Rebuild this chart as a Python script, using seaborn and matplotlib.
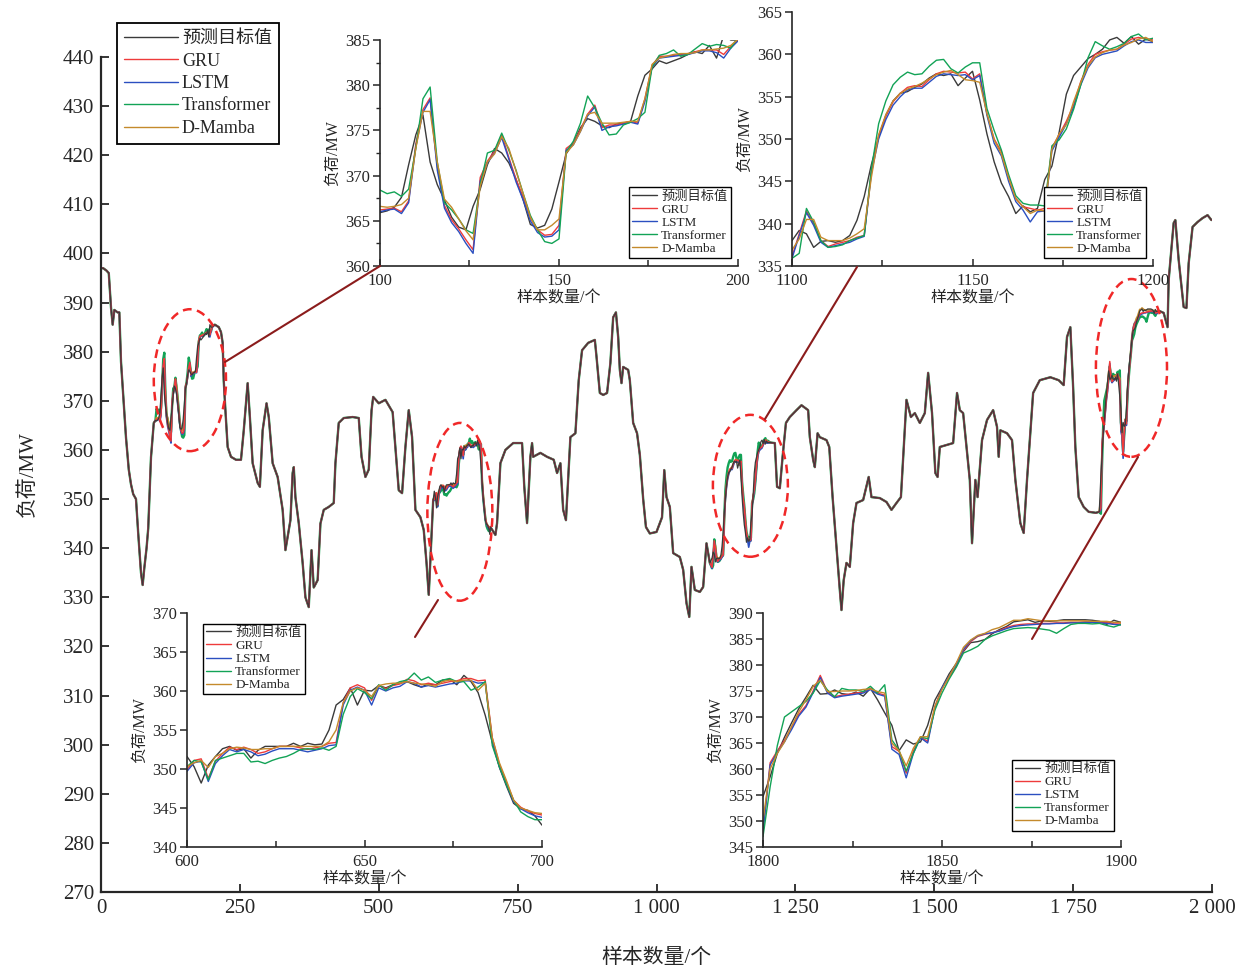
import numpy as np
import pandas as pd
import seaborn as sns
from matplotlib import pyplot as plt
from matplotlib.patches import Ellipse
from matplotlib.lines import Line2D

# ---------------- data ----------------
models = ['预测目标值', 'GRU', 'LSTM', 'Transformer', 'D-Mamba']
colors = ['#3a3a3a', '#ee3b3b', '#2b4fc0', '#12a356', '#c48a2c']

# target curve of the main chart outside the four zoomed windows
main_x = [0, 4, 10, 14, 18, 21, 24, 30, 33, 36, 40, 45, 50, 54, 58, 63, 67, 72, 75, 78, 82, 85, 90, 95, 98,
          205, 212, 216, 219, 221, 224, 228, 234, 243, 252, 257, 264, 268, 273, 282, 286, 291, 298, 302, 309,
          318, 327, 332, 338, 341, 345, 347, 350, 356, 363, 368, 374, 379, 383, 390, 395, 401, 410, 419, 422,
          428, 437, 453, 464, 469, 476, 482, 487, 490, 500, 512, 525, 530, 536, 542, 548, 554, 560, 566, 575,
          581, 586, 590, 594, 598,
          701, 710, 713, 719, 728, 742, 758, 762, 767, 773, 776, 778, 791, 803, 815, 821, 827, 832, 837, 845,
          854, 860, 866, 877, 889, 892, 898, 904, 911, 917, 922, 927, 931, 934, 937, 940, 949, 952, 958, 965,
          970, 976, 981, 988, 1000, 1010, 1014, 1018, 1024, 1030, 1042, 1048, 1054, 1059, 1063, 1069, 1078,
          1084, 1090, 1096,
          1205, 1213, 1217, 1222, 1227, 1233, 1240, 1252, 1261, 1273, 1276, 1282, 1285, 1290, 1294, 1306,
          1311, 1317, 1324, 1330, 1333, 1337, 1342, 1348, 1354, 1360, 1372, 1382, 1387, 1402, 1414, 1423,
          1432, 1440, 1447, 1450, 1458, 1465, 1474, 1483, 1489, 1496, 1502, 1506, 1510, 1522, 1534, 1541,
          1546, 1552, 1558, 1564, 1568, 1574, 1578, 1586, 1595, 1606, 1613, 1616, 1619, 1631, 1640, 1646,
          1655, 1661, 1667, 1672, 1678, 1690, 1709, 1724, 1733, 1739, 1745, 1750, 1754, 1760, 1769, 1778,
          1791, 1797,
          1905, 1913, 1920, 1922, 1931, 1934, 1940, 1949, 1954, 1958, 1965, 1974, 1983, 1992, 1999]
main_y = [397.0, 397.0, 396.5, 396.0, 389.0, 385.5, 388.5, 388.0, 388.0, 378.0, 371.0, 362.5, 356.0, 353.0,
          351.0, 350.0, 343.0, 335.0, 332.5, 336.0, 340.0, 344.0, 358.5, 365.5, 366.0,
          385.5, 385.0, 384.0, 381.8, 374.0, 368.0, 360.6, 358.6, 358.0, 358.0, 364.0, 373.6, 366.7, 357.3,
          353.3, 352.5, 364.0, 369.5, 366.7, 357.3, 354.5, 347.8, 339.6, 343.7, 345.7, 355.3, 356.5, 350.4,
          345.1, 337.0, 330.0, 328.0, 339.6, 332.0, 333.5, 345.0, 347.8, 348.4, 349.2, 357.3, 365.5, 366.5,
          366.7, 366.5, 358.6, 354.5, 356.0, 368.0, 370.8, 369.5, 370.2, 367.7, 360.6, 351.8, 351.2, 360.6,
          368.1, 362.6, 347.8, 346.3, 343.7, 337.0, 330.5, 340.2, 349.8,
          344.3, 342.7, 345.1, 357.3, 360.0, 361.4, 361.4, 352.5, 345.1, 358.6, 361.4, 358.6, 359.4, 358.6,
          358.0, 355.3, 357.3, 347.8, 345.7, 362.6, 363.4, 374.2, 380.3, 381.8, 382.4, 379.0, 371.6, 371.2,
          371.6, 377.7, 387.0, 388.0, 383.0, 376.3, 373.6, 376.9, 376.3, 374.2, 365.5, 363.4, 359.0, 350.0,
          344.3, 343.0, 343.3, 346.3, 355.9, 350.4, 348.4, 339.0, 338.2, 335.6, 328.8, 326.0, 336.2, 331.5,
          331.1, 332.1, 341.0, 337.0,
          361.5, 361.4, 352.5, 352.2, 358.6, 365.5, 366.7, 368.1, 369.1, 368.1, 362.6, 358.0, 356.5, 363.4,
          362.6, 362.0, 360.6, 350.4, 340.2, 331.5, 327.4, 333.5, 337.0, 336.2, 345.1, 349.2, 349.8, 354.5,
          350.4, 350.2, 349.4, 347.8, 349.2, 350.4, 364.0, 370.2, 366.7, 367.5, 365.5, 367.5, 375.7, 367.5,
          355.3, 354.5, 360.6, 361.0, 361.4, 371.6, 368.1, 367.5, 360.6, 353.9, 341.0, 353.9, 350.4, 362.0,
          366.1, 368.1, 364.7, 358.6, 364.0, 363.4, 362.0, 353.9, 345.1, 343.1, 353.9, 362.0, 371.6, 374.2,
          374.8, 374.2, 373.2, 383.0, 385.0, 372.8, 360.6, 350.4, 348.4, 347.4, 347.2, 347.4,
          388.3, 387.9, 385.0, 394.6, 406.2, 406.8, 398.7, 389.1, 388.9, 398.0, 405.4, 406.4, 407.2, 407.8,
          406.8]

# window 1: samples 100-200 (every 2nd sample)
w1_x = list(range(100, 201, 2))
w1_target = [365.9, 366.1, 366.5, 367.6, 371.2, 374.5, 376.7, 371.5, 369.0, 367.3,
             365.4, 364.3, 364.0, 366.6, 368.5, 371.2, 373.0, 372.5, 371.4, 369.6,
             367.3, 364.6, 364.2, 364.5, 366.3, 369.3, 372.4, 373.6, 375.3, 376.3,
             376.0, 375.5, 375.3, 375.7, 375.8, 376.0, 378.8, 381.1, 381.8, 382.7,
             382.4, 382.7, 383.0, 383.4, 383.7, 383.5, 384.4, 383.0, 385.5, 385.0, 385.0]
w1_gru = [366.2, 366.3, 366.4, 366.0, 367.2, 373.5, 377.3, 378.6, 371.0, 366.7,
          365.1, 364.1, 362.9, 361.8, 369.8, 371.6, 372.7, 374.5, 372.0, 369.6,
          367.6, 365.3, 364.0, 363.4, 363.5, 364.5, 373.0, 373.6, 375.1, 376.8,
          377.8, 375.3, 375.6, 375.6, 375.8, 376.0, 375.8, 378.5, 382.2, 383.2,
          383.2, 383.3, 383.4, 383.5, 383.7, 383.9, 383.9, 383.9, 383.4, 384.3, 385.0]
w1_lstm = [366.0, 366.2, 366.3, 365.8, 367.0, 373.2, 377.0, 378.4, 370.6, 366.4,
           364.8, 363.8, 362.5, 361.4, 369.4, 371.4, 372.5, 374.2, 371.8, 369.3,
           367.3, 365.0, 363.7, 363.2, 363.3, 364.0, 372.8, 373.4, 374.9, 376.6,
           377.6, 375.0, 375.4, 375.5, 375.7, 375.9, 375.7, 378.2, 382.0, 383.0,
           383.1, 383.2, 383.3, 383.4, 383.6, 383.8, 383.8, 383.6, 383.0, 384.1, 384.9]
w1_trans = [368.4, 368.0, 368.2, 367.7, 368.5, 373.0, 378.5, 379.8, 371.5, 367.0,
            366.2, 365.2, 364.0, 363.6, 369.0, 372.5, 372.8, 374.7, 372.8, 370.6,
            368.0, 365.6, 364.0, 362.7, 362.5, 363.0, 372.6, 373.8, 375.8, 378.8,
            377.5, 375.8, 374.5, 374.6, 375.6, 375.9, 376.3, 377.0, 382.0, 383.3,
            383.5, 383.9, 383.2, 383.4, 384.0, 384.6, 384.3, 384.5, 384.4, 384.1, 385.3]
w1_mamba = [366.6, 366.5, 366.6, 366.8, 367.5, 373.0, 377.1, 377.1, 371.5, 367.4,
            366.5, 365.2, 363.9, 362.9, 368.8, 371.5, 372.4, 374.3, 373.0, 370.5,
            368.0, 365.4, 364.0, 364.0, 364.5, 365.2, 372.5, 373.4, 374.9, 376.8,
            377.0, 375.8, 375.8, 375.8, 375.9, 376.0, 376.0, 378.5, 382.3, 383.0,
            383.2, 383.4, 383.5, 383.5, 383.6, 383.9, 383.9, 384.0, 384.1, 384.4, 385.1]

# window 2: samples 600-700
w2_x = list(range(600, 701, 2))
w2_target = [351.6, 350.3, 348.2, 350.5, 351.6, 352.6, 352.9, 352.4, 352.6, 351.4,
             352.4, 352.9, 352.9, 352.9, 352.9, 353.3, 352.9, 353.3, 353.1, 353.2,
             355.0, 358.2, 358.9, 360.4, 358.2, 360.1, 360.0, 360.7, 360.4, 360.8,
             361.0, 361.2, 360.8, 360.5, 360.9, 360.8, 361.4, 361.5, 360.8, 362.0,
             361.2, 359.8, 356.9, 353.4, 350.2, 347.8, 345.6, 344.9, 344.7, 344.0, 342.8]
w2_gru = [349.9, 351.1, 351.3, 348.8, 351.0, 352.0, 352.8, 352.5, 352.8, 352.5,
          352.0, 352.2, 352.6, 352.9, 352.9, 352.9, 352.7, 352.5, 352.7, 352.9,
          353.3, 353.4, 358.5, 360.4, 360.8, 360.4, 358.8, 360.7, 360.3, 360.7,
          360.9, 361.5, 361.3, 360.8, 361.0, 360.8, 361.0, 361.2, 361.3, 361.6,
          361.6, 361.3, 361.4, 354.0, 350.6, 348.3, 346.0, 345.1, 344.6, 344.3, 344.1]
w2_lstm = [349.7, 350.8, 351.0, 348.4, 350.7, 351.7, 352.5, 352.2, 352.5, 352.2,
           351.7, 351.9, 352.3, 352.6, 352.6, 352.6, 352.4, 352.2, 352.4, 352.6,
           353.0, 353.1, 358.2, 360.1, 360.5, 360.1, 358.2, 360.4, 360.0, 360.4,
           360.6, 361.2, 361.0, 360.5, 360.7, 360.5, 360.7, 360.9, 361.0, 361.3,
           361.3, 361.0, 361.1, 353.6, 350.3, 348.0, 345.8, 344.9, 344.4, 344.0, 343.8]
w2_trans = [350.3, 351.1, 350.9, 348.6, 351.1, 351.4, 351.7, 352.0, 352.0, 350.9,
            351.0, 350.7, 351.1, 351.4, 351.6, 352.0, 352.5, 352.6, 352.5, 352.7,
            352.4, 352.9, 357.0, 359.3, 360.3, 359.8, 359.0, 360.8, 360.1, 360.8,
            361.2, 361.4, 362.3, 361.4, 361.8, 361.1, 361.4, 361.6, 361.2, 361.2,
            360.1, 360.5, 361.2, 353.0, 350.3, 348.0, 346.0, 344.5, 343.9, 343.5, 343.5]
w2_mamba = [350.3, 350.8, 351.1, 350.2, 351.6, 352.0, 352.6, 352.8, 352.7, 352.5,
            352.5, 352.6, 352.6, 352.9, 352.9, 352.9, 352.9, 352.9, 352.9, 352.9,
            353.5, 355.0, 358.5, 360.0, 360.4, 360.1, 359.3, 360.7, 360.9, 361.0,
            361.0, 361.2, 361.0, 360.9, 360.8, 360.6, 361.2, 361.4, 361.2, 361.4,
            361.4, 360.1, 361.0, 354.0, 350.8, 348.5, 346.0, 345.0, 344.7, 344.4, 344.3]

# window 3: samples 1100-1200
w3_x = list(range(1100, 1201, 2))
w3_target = [338.0, 339.2, 338.8, 337.2, 337.9, 338.0, 337.8, 338.0, 338.6, 340.4,
             343.2, 347.0, 350.2, 352.8, 354.5, 355.4, 355.6, 356.1, 356.5, 357.2,
             357.7, 357.5, 357.7, 356.3, 357.2, 358.0, 354.6, 350.6, 347.3, 344.8,
             343.2, 341.2, 342.1, 341.4, 341.8, 345.2, 346.8, 350.8, 355.3, 357.5,
             358.5, 359.5, 360.0, 360.6, 361.7, 362.0, 361.3, 362.1, 361.2, 361.8, 361.5]
w3_gru = [336.1, 338.8, 341.5, 340.0, 338.0, 337.3, 337.6, 337.8, 338.0, 338.4,
          338.6, 346.3, 350.4, 352.7, 354.4, 355.4, 356.1, 356.3, 356.2, 357.0,
          357.7, 358.0, 357.9, 357.8, 357.9, 357.1, 357.7, 353.0, 350.0, 348.5,
          345.5, 343.0, 342.0, 341.8, 341.6, 341.8, 349.0, 350.5, 352.1, 354.0,
          356.8, 358.8, 360.0, 360.3, 360.5, 360.6, 361.2, 361.8, 362.0, 361.8, 361.7]
w3_lstm = [335.9, 338.6, 341.3, 339.8, 337.8, 337.2, 337.4, 337.6, 337.8, 338.2,
           338.5, 346.0, 350.0, 352.3, 354.0, 355.0, 355.8, 356.0, 356.0, 356.7,
           357.4, 357.7, 357.6, 357.5, 357.6, 357.0, 357.5, 352.8, 349.5, 348.0,
           345.0, 342.6, 341.6, 340.2, 341.4, 341.5, 348.6, 350.2, 351.8, 353.7,
           356.4, 358.4, 359.6, 360.0, 360.2, 360.4, 361.0, 361.5, 361.7, 361.4, 361.4]
w3_trans = [335.9, 336.5, 341.8, 340.2, 338.0, 337.2, 337.3, 337.5, 338.0, 338.3,
            338.6, 346.5, 351.8, 354.5, 356.4, 357.3, 357.9, 357.6, 357.7, 358.6,
            359.3, 359.4, 358.3, 357.8, 358.5, 359.0, 359.0, 353.6, 351.0, 348.7,
            345.8, 343.3, 342.4, 342.2, 342.2, 342.1, 349.2, 349.9, 351.2, 353.5,
            356.4, 359.6, 361.5, 361.0, 360.6, 360.9, 361.3, 362.1, 362.4, 361.7, 361.9]
w3_mamba = [336.9, 338.2, 340.5, 340.5, 338.4, 338.0, 338.0, 338.0, 338.3, 338.8,
            339.4, 345.5, 350.5, 352.9, 354.5, 355.4, 355.9, 356.2, 356.6, 357.1,
            357.6, 357.9, 358.1, 357.6, 357.0, 356.9, 356.7, 353.0, 349.9, 348.2,
            345.4, 342.9, 342.0, 341.2, 341.6, 341.5, 348.8, 350.6, 351.7, 354.4,
            356.7, 358.6, 359.7, 360.2, 360.5, 360.6, 361.1, 361.4, 361.8, 362.0, 361.5]

# window 4: samples 1800-1900
w4_x = list(range(1800, 1901, 2))
w4_target = [354.7, 358.5, 363.0, 366.1, 368.9, 371.6, 373.8, 376.1, 374.4, 374.5,
             375.2, 374.5, 374.3, 374.8, 374.0, 375.5, 373.3, 370.8, 368.4, 363.5,
             365.6, 364.8, 365.2, 368.4, 373.2, 375.7, 378.3, 380.3, 382.6, 384.3,
             384.5, 384.9, 386.0, 386.8, 387.4, 388.3, 388.5, 388.7, 388.2, 388.5,
             388.4, 388.5, 388.7, 388.7, 388.7, 388.7, 388.6, 388.4, 387.8, 388.6, 388.2]
w4_gru = [348.2, 361.2, 363.5, 365.5, 368.0, 370.5, 372.2, 375.0, 378.0, 374.8,
          373.9, 374.2, 374.4, 374.6, 374.8, 375.5, 374.6, 374.2, 364.3, 363.4,
          359.2, 363.5, 366.2, 365.3, 372.0, 375.5, 377.6, 379.7, 382.8, 384.5,
          385.5, 385.9, 386.2, 386.6, 387.2, 387.6, 387.8, 387.9, 387.9, 388.0,
          388.0, 388.1, 388.1, 388.2, 388.2, 388.3, 388.3, 388.2, 388.2, 387.9, 387.9]
w4_lstm = [347.8, 360.8, 363.2, 365.2, 367.6, 370.2, 371.9, 374.7, 377.6, 374.6,
           373.7, 374.0, 374.2, 374.4, 374.6, 375.3, 374.4, 374.0, 363.8, 362.8,
           358.3, 363.0, 366.0, 365.0, 371.6, 375.6, 377.9, 380.0, 383.0, 384.7,
           385.6, 386.0, 386.2, 386.5, 387.0, 387.4, 387.6, 387.7, 387.8, 387.9,
           387.9, 388.0, 388.0, 388.1, 388.1, 388.2, 388.2, 388.1, 388.0, 387.8, 387.7]
w4_trans = [347.0, 356.6, 364.5, 370.0, 371.0, 372.0, 373.0, 374.6, 377.0, 375.2,
            373.9, 375.5, 375.2, 375.2, 374.9, 375.9, 374.6, 376.2, 365.6, 363.6,
            359.6, 363.0, 366.2, 365.8, 371.3, 374.6, 377.3, 379.6, 382.3, 382.9,
            383.6, 384.9, 385.6, 386.1, 386.6, 387.0, 387.1, 387.2, 387.1, 386.9,
            386.7, 386.1, 387.0, 387.8, 388.0, 388.0, 387.9, 388.0, 387.6, 387.3, 387.8]
w4_mamba = [350.2, 360.0, 363.0, 365.2, 368.2, 371.0, 373.3, 375.9, 377.1, 374.9,
            374.9, 375.0, 375.0, 375.1, 375.3, 375.4, 374.9, 374.6, 365.0, 363.5,
            360.6, 364.0, 366.2, 366.2, 372.0, 375.3, 377.8, 380.4, 383.4, 384.8,
            385.7, 386.1, 386.8, 387.2, 387.9, 388.6, 388.6, 388.9, 388.7, 388.5,
            388.5, 388.5, 388.5, 388.5, 388.5, 388.5, 388.4, 388.4, 388.4, 388.2, 388.2]

windows = [
    (w1_x, [w1_target, w1_gru, w1_lstm, w1_trans, w1_mamba]),
    (w2_x, [w2_target, w2_gru, w2_lstm, w2_trans, w2_mamba]),
    (w3_x, [w3_target, w3_gru, w3_lstm, w3_trans, w3_mamba]),
    (w4_x, [w4_target, w4_gru, w4_lstm, w4_trans, w4_mamba]),
]

# long table: outside the windows the models sit on the target at this scale
rows = []
for i, m in enumerate(models):
    rows.append(pd.DataFrame({'x': main_x, 'y': main_y, 'model': m}))
    for wx, ser in windows:
        rows.append(pd.DataFrame({'x': wx, 'y': ser[i], 'model': m}))
df = pd.concat(rows, ignore_index=True).sort_values(['model', 'x'])

# ---------------- style ----------------
sns.set_style('ticks')
plt.rcParams['font.family'] = ['Liberation Serif', 'Noto Sans CJK SC']
plt.rcParams['axes.unicode_minus'] = False

W, H = 1256, 966
fig = plt.figure(figsize=(W / 100, H / 100), dpi=100)


def px_rect(l, t, r, b):
    return [l / W, 1 - b / H, (r - l) / W, (b - t) / H]


def fpt(x, y):
    return x / W, 1 - y / H


palette = dict(zip(models, colors))
handles = [Line2D([], [], color=c, lw=1.0) for c in colors]

# ---------------- main chart ----------------
ax = fig.add_axes(px_rect(101, 57, 1212, 892))
draw_order = ['Transformer', 'D-Mamba', 'LSTM', 'GRU', '预测目标值']
widths = {'Transformer': 1.7, 'D-Mamba': 1.3, 'LSTM': 1.2, 'GRU': 1.1, '预测目标值': 0.9}
for m in draw_order:
    d = df[df['model'] == m]
    sns.lineplot(data=d, x='x', y='y', color=palette[m], linewidth=widths[m],
                 estimator=None, ax=ax)

ax.set_xlim(0, 2000)
ax.set_ylim(270, 440)
ax.set_xticks(range(0, 2001, 250))
ax.set_xticklabels(['0', '250', '500', '750', '1 000', '1 250', '1 500', '1 750', '2 000'])
ax.set_yticks(range(270, 441, 10))
ax.tick_params(direction='in', length=6, width=1.3, labelsize=15, pad=5)
for s in ['top', 'right']:
    ax.spines[s].set_visible(False)
for s in ['left', 'bottom']:
    ax.spines[s].set_linewidth(1.6)
ax.set_xlabel('样本数量/个', fontsize=15, labelpad=22)
ax.set_ylabel('负荷/MW', fontsize=15, labelpad=18)

leg = ax.legend(handles, models, loc='upper left', bbox_to_anchor=fpt(117, 23),
                bbox_transform=fig.transFigure, fontsize=13, fancybox=False,
                edgecolor='black', framealpha=1, handlelength=3.0, handletextpad=0.2,
                labelspacing=0.3, borderpad=0.4, borderaxespad=0)
leg.get_frame().set_linewidth(1.3)

# red dashed ellipses around the zoomed windows
for (cx, cy, ew, eh) in [(160, 374.2, 130, 28.9), (646, 347.4, 117, 36.2),
                         (1169, 352.7, 135, 28.9), (1855, 376.7, 128, 36.2)]:
    ax.add_patch(Ellipse((cx, cy), ew, eh, fill=False, edgecolor='#f02828',
                         lw=1.8, linestyle=(0, (3.5, 2.2)), zorder=5))


# ---------------- insets ----------------
def inset(rect, wx, ser, ylim, yticks, xticks, xlabels, minor_y, leg_loc, leg_anchor):
    ia = fig.add_axes(rect)
    for m, c, y in zip(models, colors, ser):
        sns.lineplot(x=wx, y=y, color=c, linewidth=1.0, estimator=None, ax=ia)
    ia.set_xlim(wx[0], wx[-1])
    ia.set_ylim(*ylim)
    ia.set_xticks(xticks)
    ia.set_xticklabels(xlabels)
    ia.set_xticks([wx[0] + 25, wx[0] + 75], minor=True)
    ia.set_yticks(yticks)
    if minor_y:
        ia.set_yticks(np.arange(ylim[0] + 2.5, ylim[1], 5), minor=True)
    ia.tick_params(axis='x', which='both', direction='in', width=1.1, labelsize=12, pad=5)
    ia.tick_params(axis='x', which='major', length=5)
    ia.tick_params(axis='x', which='minor', length=4)
    ia.tick_params(axis='y', which='major', direction='out', length=5, width=1.1,
                   labelsize=12, pad=2)
    ia.tick_params(axis='y', which='minor', direction='out', length=3, width=1.0)
    for s in ['top', 'right']:
        ia.spines[s].set_visible(False)
    for s in ['left', 'bottom']:
        ia.spines[s].set_linewidth(1.2)
    ia.set_xlabel('样本数量/个', fontsize=11.5, labelpad=1)
    ia.set_ylabel('负荷/MW', fontsize=11.5, labelpad=3)
    lg = ia.legend(handles, models, loc=leg_loc, bbox_to_anchor=leg_anchor, fontsize=9.5,
                   fancybox=False, edgecolor='black', framealpha=1, handlelength=1.9,
                   handletextpad=0.3, labelspacing=0.06, borderpad=0.25, borderaxespad=0)
    lg.get_frame().set_linewidth(1.0)
    return ia


inset(px_rect(380, 40, 738, 266), w1_x, windows[0][1], (360, 385), range(360, 386, 5),
      [100, 150, 200], ['100', '150', '200'], True, 'lower right', (0.98, 0.035))
inset(px_rect(792, 12, 1153, 266), w3_x, windows[2][1], (335, 365), range(335, 366, 5),
      [1100, 1150, 1200], ['1100', '1150', '1200'], False, 'lower right', (0.98, 0.03))
inset(px_rect(187, 613, 542, 847), w2_x, windows[1][1], (340, 370), range(340, 371, 5),
      [600, 650, 700], ['600', '650', '700'], False, 'upper left', (0.045, 0.955))
inset(px_rect(763, 613, 1121, 847), w4_x, windows[3][1], (345, 390), range(345, 391, 5),
      [1800, 1850, 1900], ['1800', '1850', '1900'], False, 'lower right', (0.98, 0.07))

# connector lines from the ellipses to the insets
for (p0, p1) in [((225, 362), (380, 266)), ((857, 267), (765, 419)),
                 ((438, 600), (415, 637)), ((1138, 457), (1032, 639))]:
    fig.add_artist(Line2D([p0[0] / W, p1[0] / W], [1 - p0[1] / H, 1 - p1[1] / H],
                          transform=fig.transFigure, color='#8b1c1c', lw=1.5, zorder=20))

fig.savefig('out.png', dpi=100)
